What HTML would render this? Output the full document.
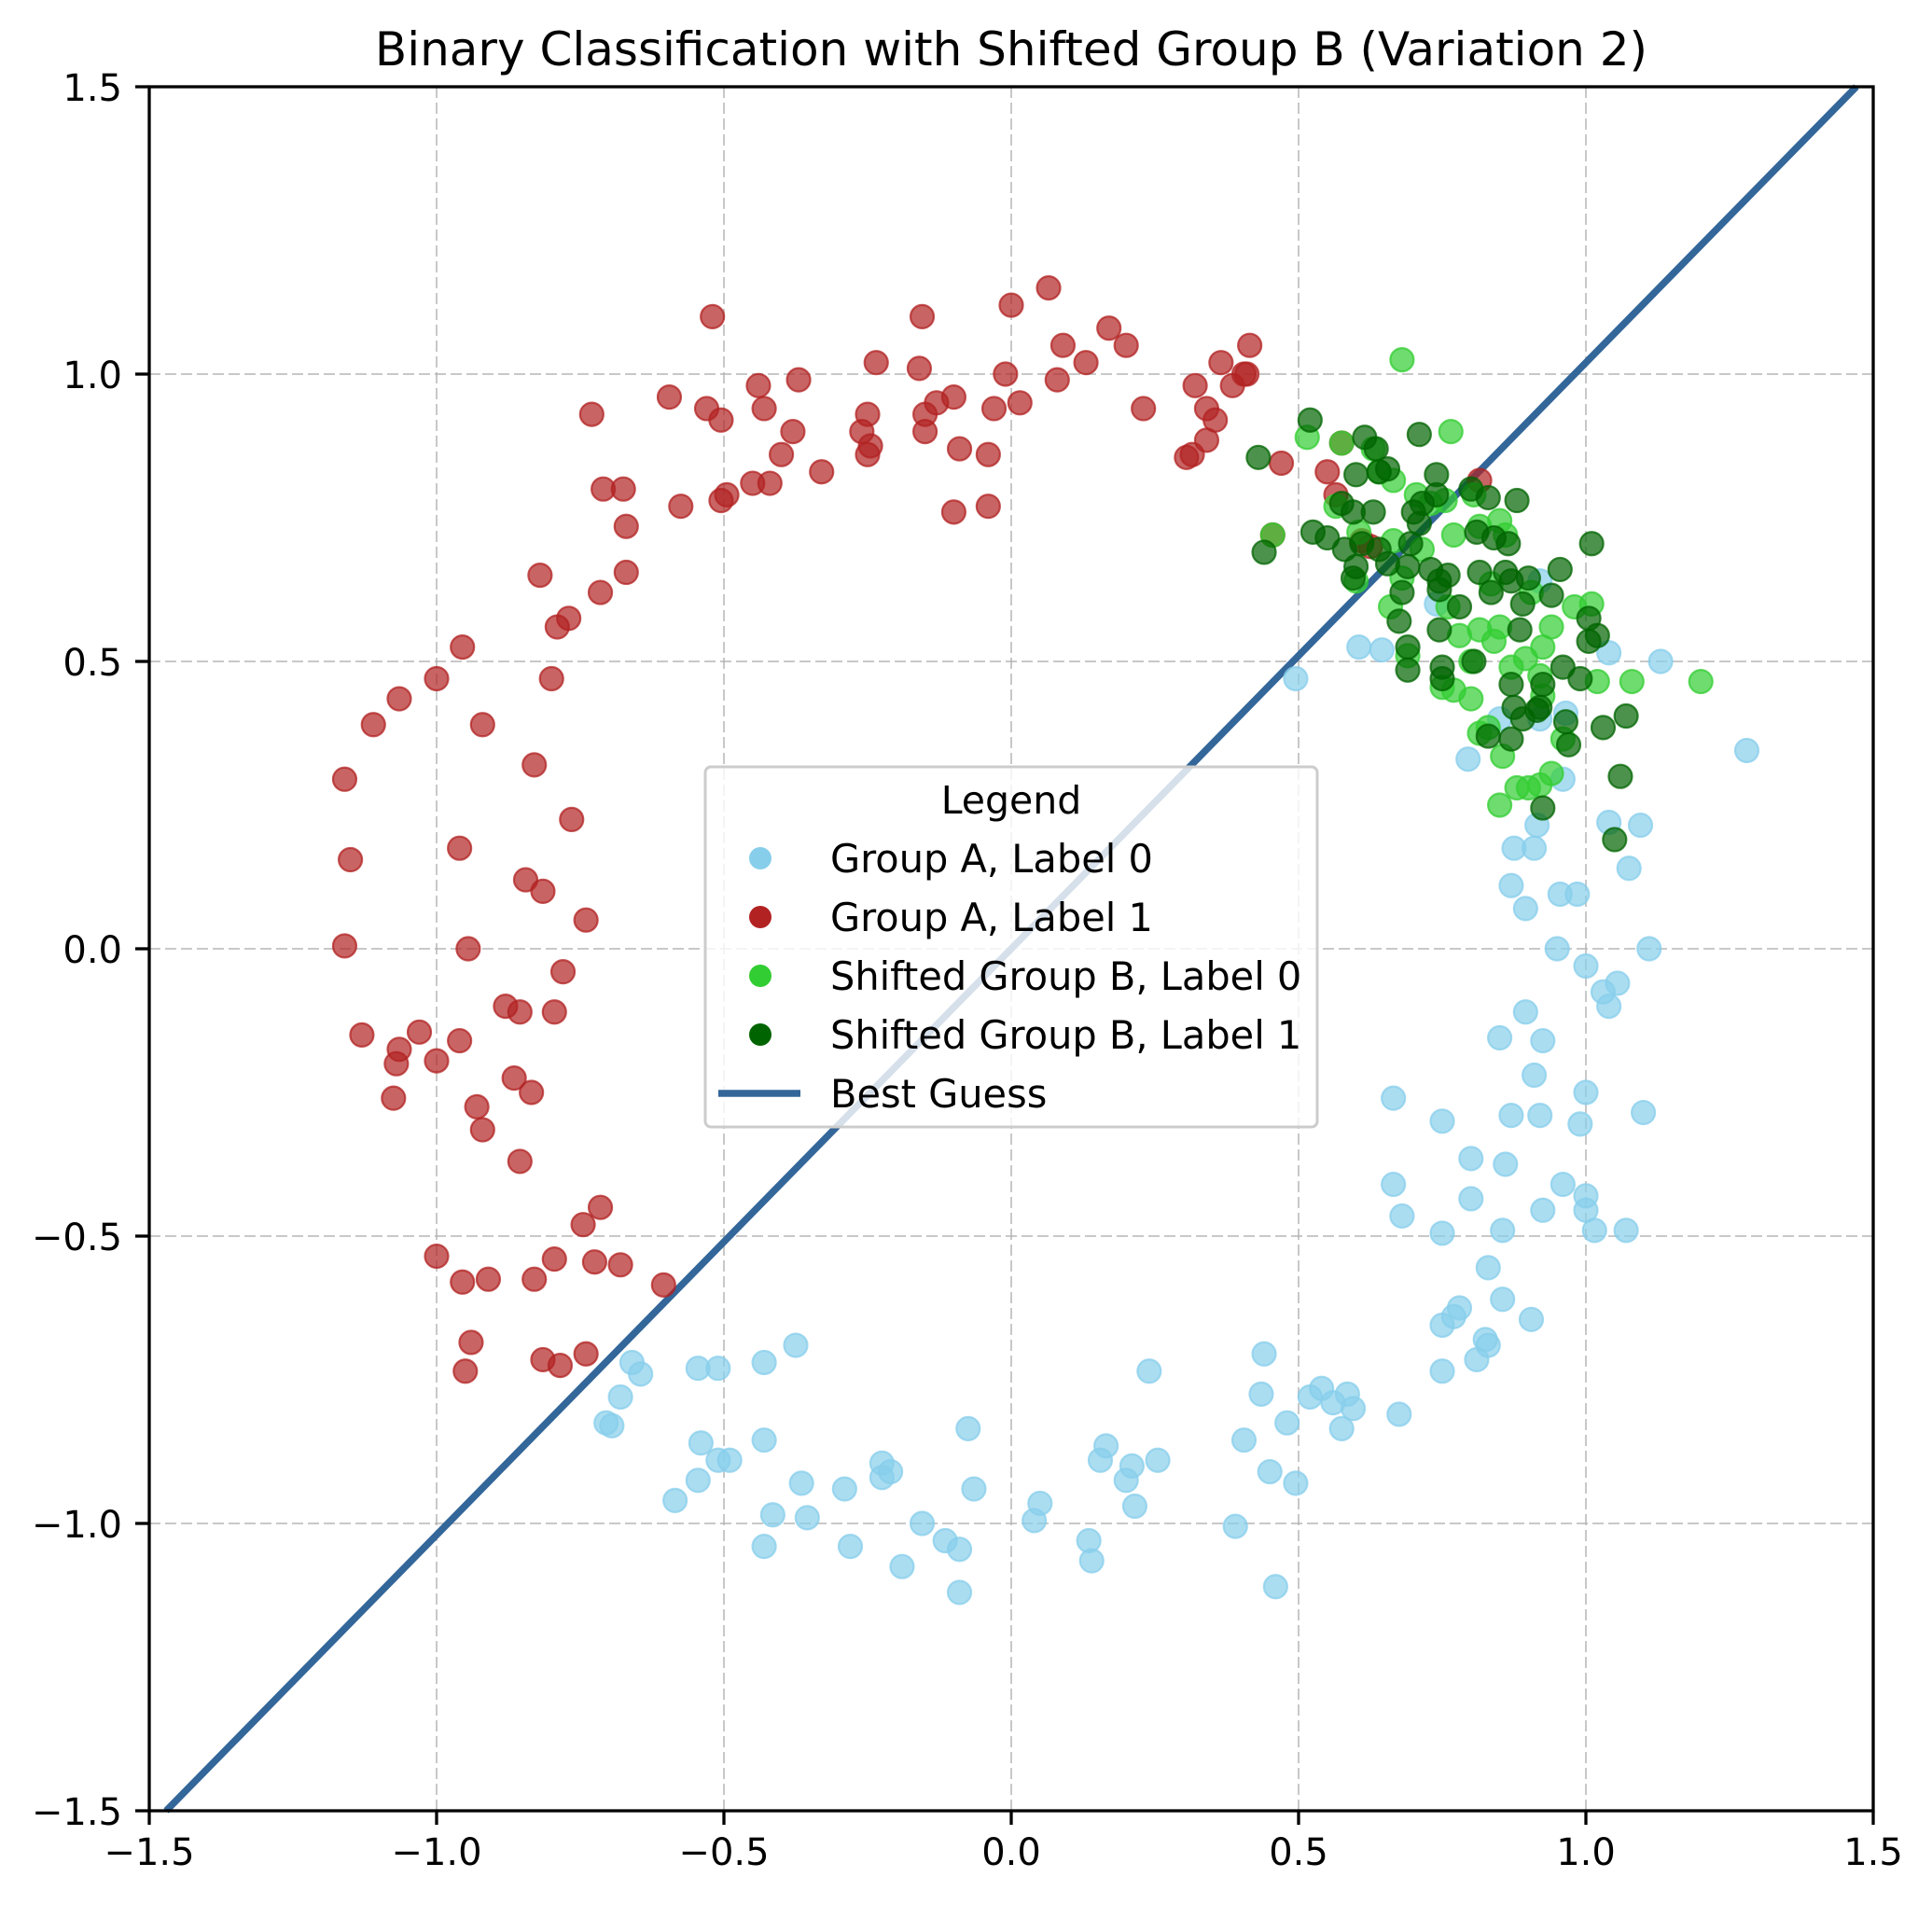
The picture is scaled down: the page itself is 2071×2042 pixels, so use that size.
<!DOCTYPE html>
<html><head><meta charset="utf-8"><style>
html,body{margin:0;padding:0;background:#fff}
svg{display:block;font-family:"DejaVu Sans","Liberation Sans",sans-serif}
</style></head><body>
<svg id="chart" width="2071" height="2042" viewBox="0 0 2071 2042">
<rect width="2071" height="2042" fill="#fff"/>
<text x="1084" y="70" text-anchor="middle" font-size="50" fill="#000">Binary Classification with Shifted Group B (Variation 2)</text>
<g id="grid"></g>
<g id="line"></g>
<g id="points"></g>
<g id="axes"></g>
<g id="legend"></g>
</svg>
<script>
const xTicks=[-1.5,-1.0,-0.5,0.0,0.5,1.0,1.5];
const yTicks=[-1.5,-1.0,-0.5,0.0,0.5,1.0,1.5];
const tickLabels=["\u22121.5","\u22121.0","\u22120.5","0.0","0.5","1.0","1.5"];
const lineSlope=1.02;
const redX=[-0.52,-0.155,0.0,0.065,0.09,0.17,0.2,0.13,-0.235,-0.16,-0.01,-0.44,-0.37,-0.53,-0.505,-0.43,-0.595,-0.73,-0.13,-0.1,-0.15,-0.25,0.015,-0.03,0.08,0.23,-0.26,-0.245,-0.15,-0.38,-0.09,-0.04,-0.25,-0.4,-0.33,-0.45,-0.42,-0.495,-0.505,-0.575,-0.71,-0.675,-0.1,-0.04,-0.67,-0.67,-0.715,-0.82,-0.77,-0.79,-0.955,-1.0,-0.8,-1.065,-1.11,-0.92,-0.83,-1.16,-0.765,-0.96,-1.15,-0.845,-0.815,-0.74,-1.16,-0.945,-0.78,-1.03,-0.88,-0.795,-0.855,-1.13,-1.065,-0.96,-1.0,-1.07,-1.075,-0.865,-0.835,-0.93,-0.92,-0.855,-0.715,-0.745,-1.0,-0.795,-0.725,-0.68,-0.605,-0.955,-0.91,-0.83,-0.94,-0.74,-0.815,-0.785,-0.95,0.32,0.34,0.305,0.315,0.34,0.355,0.365,0.385,0.405,0.415,0.41,0.47,0.455,0.55,0.575,0.565,0.815,0.61,0.625];
const redY=[1.1,1.1,1.12,1.15,1.05,1.08,1.05,1.02,1.02,1.01,1.0,0.98,0.99,0.94,0.92,0.94,0.96,0.93,0.95,0.96,0.93,0.93,0.95,0.94,0.99,0.94,0.9,0.875,0.9,0.9,0.87,0.86,0.86,0.86,0.83,0.81,0.81,0.79,0.78,0.77,0.8,0.8,0.76,0.77,0.735,0.655,0.62,0.65,0.575,0.56,0.525,0.47,0.47,0.435,0.39,0.39,0.32,0.295,0.225,0.175,0.155,0.12,0.1,0.05,0.005,0.0,-0.04,-0.145,-0.1,-0.11,-0.11,-0.15,-0.175,-0.16,-0.195,-0.2,-0.26,-0.225,-0.25,-0.275,-0.315,-0.37,-0.45,-0.48,-0.535,-0.54,-0.545,-0.55,-0.585,-0.58,-0.575,-0.575,-0.685,-0.705,-0.715,-0.725,-0.735,0.98,0.94,0.855,0.86,0.885,0.92,1.02,0.98,1.0,1.05,1.0,0.845,0.72,0.83,0.88,0.79,0.815,0.71,0.7];
const blueX=[-0.705,-0.695,-0.68,-0.66,-0.645,-0.585,-0.545,-0.51,-0.54,-0.545,-0.51,-0.49,-0.43,-0.375,-0.43,-0.43,-0.415,-0.365,-0.355,-0.29,-0.28,-0.225,-0.225,-0.21,-0.19,-0.155,-0.115,-0.09,-0.09,-0.075,-0.065,0.04,0.05,0.135,0.14,0.165,0.155,0.2,0.21,0.215,0.24,0.255,0.39,0.405,0.44,0.435,0.45,0.46,0.48,0.495,0.52,0.54,0.56,0.575,0.585,0.595,0.675,0.665,0.665,0.68,0.75,0.75,0.8,0.8,0.83,0.855,0.855,0.75,0.78,0.77,0.75,0.81,0.825,0.83,0.905,0.85,0.86,0.87,0.895,0.91,0.925,0.92,0.925,0.96,0.99,1.0,1.0,1.0,1.015,1.07,1.1,1.0,1.03,1.04,1.055,1.11,0.95,0.895,0.87,0.955,0.985,0.875,0.91,0.915,1.04,1.095,1.075,0.96,0.795,1.28,1.13,1.04,0.605,0.645,0.495,0.74,0.92,0.965,0.85,0.92];
const blueY=[-0.825,-0.83,-0.78,-0.72,-0.74,-0.96,-0.73,-0.73,-0.86,-0.925,-0.89,-0.89,-0.72,-0.69,-0.855,-1.04,-0.985,-0.93,-0.99,-0.94,-1.04,-0.895,-0.92,-0.91,-1.075,-1.0,-1.03,-1.045,-1.12,-0.835,-0.94,-0.995,-0.965,-1.03,-1.065,-0.865,-0.89,-0.925,-0.9,-0.97,-0.735,-0.89,-1.005,-0.855,-0.705,-0.775,-0.91,-1.11,-0.825,-0.93,-0.78,-0.765,-0.79,-0.835,-0.775,-0.8,-0.81,-0.26,-0.41,-0.465,-0.495,-0.3,-0.365,-0.435,-0.555,-0.49,-0.61,-0.655,-0.625,-0.64,-0.735,-0.715,-0.68,-0.69,-0.645,-0.155,-0.375,-0.29,-0.11,-0.22,-0.16,-0.29,-0.455,-0.41,-0.305,-0.25,-0.43,-0.455,-0.49,-0.49,-0.285,-0.03,-0.075,-0.1,-0.06,0.0,0.0,0.07,0.11,0.095,0.095,0.175,0.175,0.215,0.22,0.215,0.14,0.295,0.33,0.345,0.5,0.515,0.525,0.52,0.47,0.6,0.64,0.41,0.4,0.4];
const limeX=[0.68,0.765,0.515,0.575,0.63,0.64,0.665,0.705,0.73,0.755,0.805,0.565,0.605,0.455,0.77,0.815,0.86,0.85,0.665,0.715,0.6,0.68,0.835,0.905,0.66,0.76,0.98,1.01,0.815,0.85,0.94,0.78,0.925,0.84,0.69,0.8,0.87,0.895,0.92,1.02,1.08,1.2,0.75,0.77,0.8,0.925,0.815,0.83,0.96,0.855,0.94,0.88,0.9,0.92,0.85];
const limeY=[1.025,0.9,0.89,0.88,0.87,0.83,0.815,0.79,0.775,0.78,0.79,0.77,0.725,0.72,0.72,0.735,0.72,0.745,0.71,0.695,0.64,0.645,0.635,0.62,0.595,0.595,0.595,0.6,0.555,0.56,0.56,0.545,0.525,0.535,0.51,0.5,0.49,0.505,0.475,0.465,0.465,0.465,0.455,0.45,0.435,0.44,0.375,0.385,0.365,0.335,0.305,0.28,0.28,0.285,0.25];
const darkX=[0.52,0.43,0.44,0.525,0.615,0.635,0.71,0.6,0.64,0.655,0.74,0.74,0.8,0.83,0.88,0.575,0.595,0.63,0.7,0.715,0.71,0.55,0.58,0.61,0.64,0.695,0.81,0.84,0.865,1.01,0.6,0.595,0.655,0.69,0.73,0.815,0.86,0.9,0.955,0.745,0.76,0.745,0.835,0.87,0.68,0.94,0.78,0.89,0.675,0.885,0.745,0.69,1.005,1.005,1.02,0.69,0.75,0.75,0.805,0.87,0.925,0.96,0.99,0.875,0.915,0.89,0.965,0.87,0.83,0.97,1.03,1.07,1.06,0.925,1.05,0.92];
const darkY=[0.92,0.855,0.69,0.725,0.89,0.87,0.895,0.825,0.83,0.835,0.825,0.79,0.8,0.785,0.78,0.775,0.76,0.76,0.76,0.775,0.74,0.715,0.695,0.705,0.695,0.705,0.725,0.715,0.705,0.705,0.665,0.645,0.67,0.665,0.66,0.655,0.655,0.645,0.66,0.64,0.65,0.625,0.62,0.64,0.62,0.615,0.595,0.6,0.57,0.555,0.555,0.525,0.535,0.575,0.545,0.485,0.49,0.47,0.5,0.46,0.46,0.49,0.47,0.42,0.415,0.4,0.395,0.365,0.37,0.355,0.385,0.405,0.3,0.245,0.19,0.42];

const NS="http://www.w3.org/2000/svg";
const L=160,R=2008,T=93,B=1941,xMin=-1.5,xMax=1.5,yMin=-1.5,yMax=1.5;
function sx(v){return L+(v-xMin)/(xMax-xMin)*(R-L);}
function sy(v){return B-(v-yMin)/(yMax-yMin)*(B-T);}
function mk(tag,attrs,parent){const e=document.createElementNS(NS,tag);for(const k in attrs)e.setAttribute(k,attrs[k]);parent.appendChild(e);return e;}

const grid=document.getElementById('grid');
xTicks.forEach((t)=>{
  if(t<=xMin||t>=xMax)return;
  const g=mk('line',{x1:sx(t),x2:sx(t),y1:T,y2:B,stroke:'#b0b0b0','stroke-width':2,'stroke-dasharray':'12,5','stroke-opacity':0.7},grid);
  
  
});
yTicks.forEach((t)=>{
  if(t<=yMin||t>=yMax)return;
  const g=mk('line',{x1:L,x2:R,y1:sy(t),y2:sy(t),stroke:'#b0b0b0','stroke-width':2,'stroke-dasharray':'12,5','stroke-opacity':0.7},grid);
  
  
});

const lineG=document.getElementById('line');
const x0=yMin/lineSlope,x1=yMax/lineSlope;
const bl=mk('line',{x1:sx(x0),y1:sy(lineSlope*x0),x2:sx(x1),y2:sy(lineSlope*x1),stroke:'#336699','stroke-width':7.5},lineG);



const pts=document.getElementById('points');
function series(xs,ys,color,name){
  const g=mk('g',{},pts);
  
  
  xs.forEach((x,i)=>{
    const c=mk('circle',{cx:sx(x),cy:sy(ys[i]),r:12.5,fill:color,'fill-opacity':0.7,stroke:color,'stroke-opacity':0.75,'stroke-width':2.2},g);
    
    
  });
}
series(blueX,blueY,'#87ceeb','group-a-label-0');
series(redX,redY,'#b22222','group-a-label-1');
series(limeX,limeY,'#32cd32','shifted-b-label-0');
series(darkX,darkY,'#006400','shifted-b-label-1');

const axes=document.getElementById('axes');
const fr=mk('rect',{x:L,y:T,width:R-L,height:B-T,fill:'none',stroke:'#000','stroke-width':3.3},axes);


xTicks.forEach((t,i)=>{
  mk('line',{x1:sx(t),x2:sx(t),y1:B,y2:B+15,stroke:'#000','stroke-width':3.3},axes);
  const tx=mk('text',{x:sx(t),y:B+58,'text-anchor':'middle','font-size':40,fill:'#000'},axes);
  tx.textContent=tickLabels[i];
  
  
});
yTicks.forEach((t,i)=>{
  mk('line',{x1:L-15,x2:L,y1:sy(t),y2:sy(t),stroke:'#000','stroke-width':3.3},axes);
  const tx=mk('text',{x:L-29,y:sy(t)+15,'text-anchor':'end','font-size':40,fill:'#000'},axes);
  tx.textContent=tickLabels[i];
  
  
});

const lg=document.getElementById('legend');
const box=mk('rect',{x:756,y:822,width:656,height:386,rx:6,fill:'#fff','fill-opacity':0.8,stroke:'#cccccc','stroke-width':3},lg);


const lt=mk('text',{x:1084,y:872,'text-anchor':'middle','font-size':41,fill:'#000'},lg);
lt.textContent='Legend';


const entries=[['Group A, Label 0','#87ceeb'],['Group A, Label 1','#b22222'],['Shifted Group B, Label 0','#32cd32'],['Shifted Group B, Label 1','#006400'],['Best Guess','line']];
entries.forEach((e,i)=>{
  const y=920+i*63;
  const g=mk('g',{},lg);
  
  
  if(e[1]==='line'){mk('line',{x1:770,x2:858,y1:y,y2:y,stroke:'#336699','stroke-width':7.5},g);}
  else{mk('circle',{cx:815,cy:y,r:12,fill:e[1]},g);}
  const t=mk('text',{x:890,y:y+15,'font-size':41.5,fill:'#000'},g);
  t.textContent=e[0];
});
</script>
</body></html>
